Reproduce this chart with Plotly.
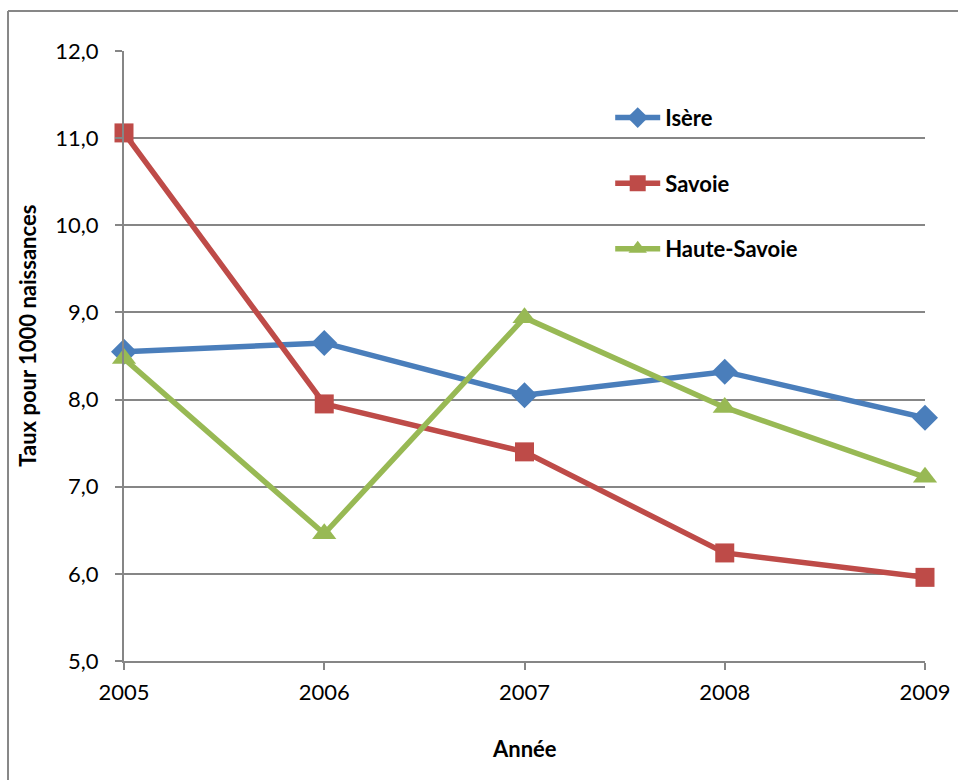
import plotly.graph_objects as go

years = [2005, 2006, 2007, 2008, 2009]
isere = [8.55, 8.65, 8.05, 8.32, 7.79]
savoie = [11.06, 7.95, 7.40, 6.24, 5.96]
haute_savoie = [8.47, 6.46, 8.94, 7.91, 7.11]
y_ticks = [5, 6, 7, 8, 9, 10, 11, 12]
y_tick_labels = ["5,0", "6,0", "7,0", "8,0", "9,0", "10,0", "11,0", "12,0"]

FONT = "Lato"
series = [
    ("Isère", isere, "#4A7EBB", "diamond", 20),
    ("Savoie", savoie, "#BE4B48", "square", 19),
    ("Haute-Savoie", haute_savoie, "#98B954", "triangle-up", 21),
]

fig = go.Figure()
for i, (name, vals, col, sym, sz) in enumerate(series):
    fig.add_trace(go.Scatter(
        x=years, y=vals, name=name, mode="lines+markers",
        line=dict(color=col, width=5.5),
        marker=dict(symbol=sym, size=sz, color=col),
        legendgroup=f"g{i}", cliponaxis=False,
    ))

fig.update_layout(
    width=958, height=780,
    margin=dict(l=124, r=33, t=51, b=119),
    paper_bgcolor="white", plot_bgcolor="white",
    font=dict(family=FONT, size=22, color="black"),
    showlegend=True,
    legend=dict(
        x=0.607, y=0.925, xanchor="left", yanchor="top",
        bgcolor="rgba(0,0,0,0)",
        font=dict(family=FONT, size=22, color="black", weight="bold"),
        traceorder="grouped", tracegroupgap=34,
        itemwidth=45,
    ),
    xaxis=dict(
        range=[2005, 2009], tickvals=years, ticktext=[str(y) for y in years],
        showgrid=False, showline=True, linecolor="#868686", linewidth=2,
        ticks="outside", ticklen=7, tickcolor="#868686", tickwidth=2,
        zeroline=False, tickfont=dict(family=FONT, size=22),
        ticklabelstandoff=4, automargin=False,
    ),
    yaxis=dict(
        range=[5, 12], tickvals=y_ticks, ticktext=y_tick_labels,
        showgrid=True, gridcolor="#868686", gridwidth=2,
        showline=True, linecolor="#868686", linewidth=2,
        ticks="outside", ticklen=7, tickcolor="#868686", tickwidth=2,
        zeroline=False, tickfont=dict(family=FONT, size=22),
        ticklabelstandoff=12, automargin=False,
    ),
    annotations=[
        dict(text="<b>Taux pour 1000 naissances</b>", xref="paper", yref="paper",
             x=-0.12, y=0.533, xanchor="center", yanchor="middle",
             textangle=-90, showarrow=False,
             font=dict(family=FONT, size=22, color="black")),
        dict(text="<b>Année</b>", xref="paper", yref="paper",
             x=0.5, y=0, yshift=-87, xanchor="center", yanchor="middle",
             showarrow=False, font=dict(family=FONT, size=22, color="black")),
    ],
)

# outer chart frame (top and left edges visible)
fig.add_shape(type="line", xref="paper", yref="paper", x0=-0.1448, x1=1.05, y0=1.0656, y1=1.0656,
              line=dict(color="#878787", width=2))
fig.add_shape(type="line", xref="paper", yref="paper", x0=-0.1448, x1=-0.1448, y0=-0.2, y1=1.0656,
              line=dict(color="#878787", width=2))

fig.write_html("out.html")
